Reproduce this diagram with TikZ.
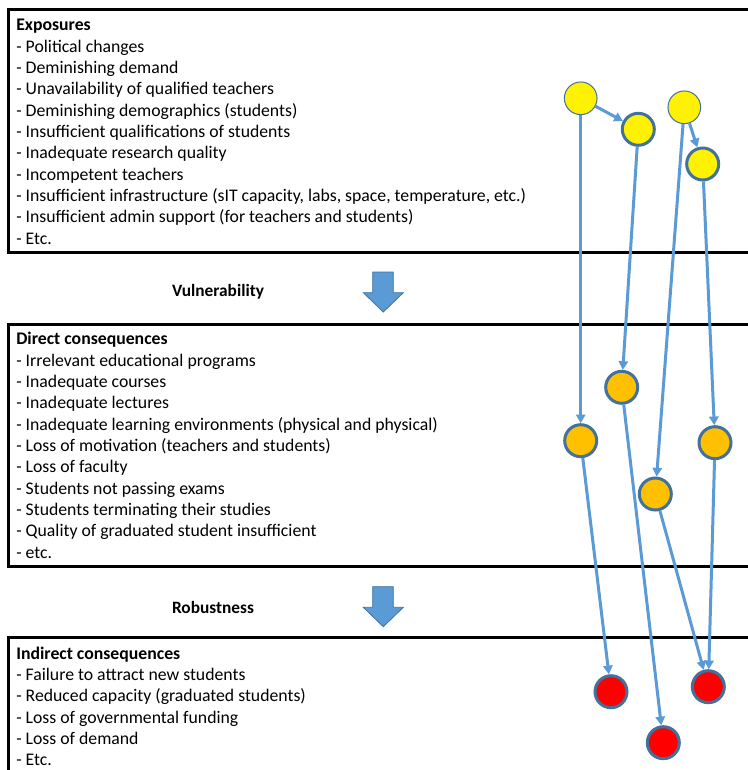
\documentclass[tikz,border=0pt]{standalone}
\usepackage{fontspec}
\setmainfont{Carlito}
\usetikzlibrary{arrows.meta}
\definecolor{linkblue}{HTML}{5B9BD5}
\definecolor{rimblue}{HTML}{41719C}
\definecolor{orangefill}{HTML}{FFC000}
\tikzset{
  x=0.75pt, y=-0.75pt,
  panel/.style={draw=black, line width=2.25pt},
  listtext/.style={anchor=base west, align=left, inner sep=0pt, font=\fontsize{13.3}{16}\selectfont},
  stagelabel/.style={font=\bfseries\fontsize{13}{16}\selectfont, inner sep=0pt},
  blockarrow/.style={fill=linkblue, draw=rimblue, line width=0.6pt},
  dotthick/.style={circle, draw=rimblue, line width=2.25pt, minimum size=24pt, inner sep=0pt},
  dotthin/.style={circle, draw=rimblue, line width=0.75pt, minimum size=24.5pt, inner sep=0pt},
  link/.style={draw=linkblue, line width=2.25pt, -{Triangle[length=6.5pt,width=7pt]}, shorten >=0pt}
}
\begin{document}
\begin{tikzpicture}
\useasboundingbox (0,0) rectangle (748,770);
\clip (0,0) rectangle (748,770);
\fill[white] (0,0) rectangle (748,770);

% panels
\draw[panel] (8,9.5) rectangle (770,252.5);
\draw[panel] (8,324.5) rectangle (770,566);
\draw[panel] (8,637) rectangle (770,800);

% (base anchor of a multi-line node is the last line's baseline)
\node[listtext] (exptext) at (16,244) {\textbf{Exposures}\\
- Political changes\\
- Deminishing demand\\
- Unavailability of qualified teachers\\
- Deminishing demographics (students)\\
- Insufficient qualifications of students\\
- Inadequate research quality\\
- Incompetent teachers\\
- Insufficient infrastructure (sIT capacity, labs, space, temperature, etc.)\\
- Insufficient admin support (for teachers and students)\\
- Etc.};

\node[listtext] (dirtext) at (16,558) {\textbf{Direct consequences}\\
- Irrelevant educational programs\\
- Inadequate courses\\
- Inadequate lectures\\
- Inadequate learning environments (physical and physical)\\
- Loss of motivation (teachers and students)\\
- Loss of faculty\\
- Students not passing exams\\
- Students terminating their studies\\
- Quality of graduated student insufficient\\
- etc.};

\node[listtext] (indtext) at (16,765.7) {\textbf{Indirect consequences}\\
- Failure to attract new students\\
- Reduced capacity (graduated students)\\
- Loss of governmental funding\\
- Loss of demand\\
- Etc.};

% stage labels and block arrows
\node[stagelabel] (vuln) at (218,292) {Vulnerability};
\node[stagelabel] (robu) at (213,607) {Robustness};
\draw[blockarrow] (372.7,272) -- (393.3,272) -- (393.3,292.7) -- (403.3,292.7) -- (383.3,312) -- (363.3,292.7) -- (372.7,292.7) -- cycle;
\draw[blockarrow] (372.7,586.7) -- (393.3,586.7) -- (393.3,607.3) -- (403.3,607.3) -- (383.3,626.7) -- (363.3,607.3) -- (372.7,607.3) -- cycle;

% circles
\node[dotthin, fill=yellow] (y1) at (580.7,98.3) {};
\node[dotthick, fill=yellow] (y2) at (638.3,129.3) {};
\node[dotthin, fill=yellow] (y3) at (684.3,107.3) {};
\node[dotthick, fill=yellow] (y4) at (702.7,164) {};
\node[dotthick, fill=orangefill] (o1) at (621.7,387.3) {};
\node[dotthick, fill=orangefill] (o2) at (580.7,440.7) {};
\node[dotthick, fill=orangefill] (o3) at (715,442.7) {};
\node[dotthick, fill=orangefill] (o4) at (655.3,494) {};
\node[dotthick, fill=red] (r1) at (611,691.7) {};
\node[dotthick, fill=red] (r2) at (663.3,742.7) {};
\node[dotthick, fill=red] (r3) at (708.3,686.7) {};

% connectors
\draw[link] (y1) -- (y2);
\draw[link] (y3) -- (y4);
\draw[link] (y1) -- (o2);
\draw[link] (y2) -- (o1);
\draw[link] (y3) -- (o4);
\draw[link] (y4) -- (o3);
\draw[link] (o2) -- (r1);
\draw[link] (o1) -- (r2);
\draw[link] (o4) -- (r3);
\draw[link] (o3) -- (r3);
\end{tikzpicture}
\end{document}
